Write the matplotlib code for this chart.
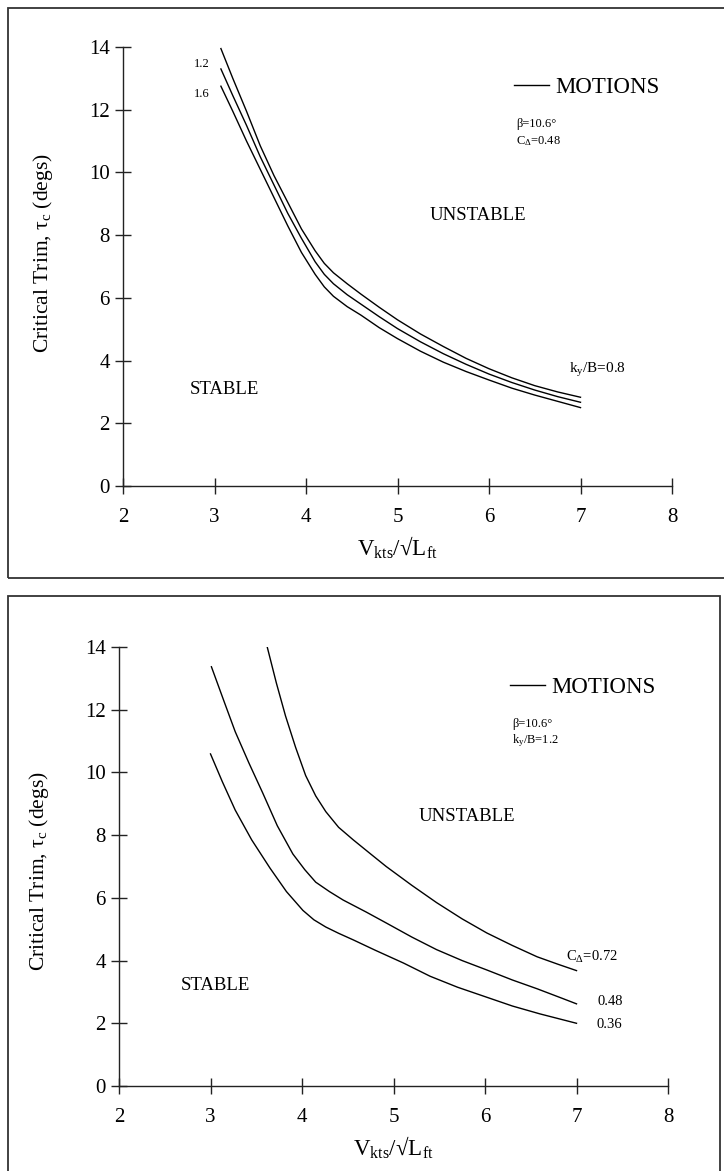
import matplotlib
matplotlib.use("Agg")
import matplotlib.pyplot as plt
from matplotlib.patches import Rectangle

plt.rcParams['font.family'] = ['Liberation Serif', 'DejaVu Serif']
plt.rcParams['mathtext.fontset'] = 'custom'
plt.rcParams['mathtext.rm'] = 'Liberation Serif'
plt.rcParams['mathtext.it'] = 'Liberation Serif:italic'

# top panel: k_y/B family, beta = 10.6 deg, C_delta = 0.48
top_x = [3.07, 3.2, 3.35, 3.5, 3.65, 3.8, 3.95, 4.1, 4.2, 4.3, 4.45, 4.6, 4.8,
         5.0, 5.25, 5.5, 5.75, 6.0, 6.25, 6.5, 6.75, 7.0]
top_k08 = [13.95, 13.0, 11.95, 10.85, 9.9, 9.05, 8.2, 7.5, 7.1, 6.8, 6.45, 6.12, 5.7,
           5.3, 4.85, 4.45, 4.07, 3.74, 3.45, 3.2, 3.0, 2.83]
top_k12 = [13.3, 12.45, 11.5, 10.5, 9.6, 8.7, 7.9, 7.15, 6.75, 6.45, 6.1, 5.8, 5.4,
           5.02, 4.6, 4.22, 3.88, 3.57, 3.3, 3.06, 2.85, 2.67]
top_k16 = [12.75, 11.95, 11.0, 10.1, 9.2, 8.3, 7.45, 6.75, 6.35, 6.05, 5.72, 5.45, 5.05,
           4.7, 4.3, 3.95, 3.65, 3.38, 3.12, 2.9, 2.7, 2.5]

# bottom panel: C_delta family, beta = 10.6 deg, k_y/B = 1.2
c072_x = [3.62, 3.72, 3.82, 3.93, 4.04, 4.15, 4.26, 4.4, 4.56, 4.75, 4.92, 5.2, 5.47,
          5.75, 6.02, 6.3, 6.57, 6.8, 7.0]
c072_y = [14.0, 12.85, 11.8, 10.8, 9.9, 9.25, 8.75, 8.25, 7.85, 7.4, 7.0, 6.4, 5.85,
          5.33, 4.88, 4.48, 4.12, 3.88, 3.68]
c048_x = [3.01, 3.15, 3.27, 3.42, 3.57, 3.73, 3.9, 4.03, 4.15, 4.3, 4.45, 4.7, 4.92,
          5.2, 5.47, 5.75, 6.02, 6.3, 6.57, 6.84, 7.0]
c048_y = [13.37, 12.25, 11.3, 10.3, 9.35, 8.3, 7.4, 6.9, 6.5, 6.2, 5.93, 5.55, 5.2,
          4.75, 4.35, 4.0, 3.7, 3.38, 3.1, 2.8, 2.62]
c036_x = [3.0, 3.13, 3.27, 3.45, 3.65, 3.83, 4.01, 4.13, 4.26, 4.4, 4.56, 4.8, 5.11,
          5.4, 5.7, 6.0, 6.3, 6.6, 7.0]
c036_y = [10.59, 9.7, 8.8, 7.85, 6.95, 6.2, 5.6, 5.3, 5.07, 4.87, 4.66, 4.33, 3.92,
          3.5, 3.15, 2.85, 2.55, 2.3, 2.0]

x_ticks = [2, 3, 4, 5, 6, 7, 8]
y_ticks = [0, 2, 4, 6, 8, 10, 12, 14]

W, H = 724, 1171
fig = plt.figure(figsize=(W / 100, H / 100), dpi=100)

# scanned-page frames round each plot
fig.patches.append(Rectangle((8 / W, 1 - 578 / H), 1.05, 570 / H, transform=fig.transFigure,
                             fill=False, lw=1.3, ec='#333333'))
fig.patches.append(Rectangle((8 / W, -0.05), 712 / W, 1 - 596 / H + 0.05, transform=fig.transFigure,
                             fill=False, lw=1.3, ec='#333333'))

ax_top = fig.add_axes([123 / W, 1 - 486 / H, 549 / W, 439 / H])
ax_bot = fig.add_axes([119 / W, 1 - 1086 / H, 549 / W, 439 / H])


def style_axes(ax):
    ax.set_xlim(2, 8)
    ax.set_ylim(0, 14)
    ax.set_xticks(x_ticks)
    ax.set_yticks(y_ticks)
    for side in ('top', 'right'):
        ax.spines[side].set_visible(False)
    for side in ('left', 'bottom'):
        ax.spines[side].set_linewidth(1.0)
        ax.spines[side].set_color('#222222')
    ax.tick_params(direction='inout', length=12, width=1.0, color='#222222', labelsize=15)
    ax.tick_params(axis='x', pad=10)
    ax.tick_params(axis='y', pad=3.5)
    ax.set_xlabel(r'V$_\mathregular{kts}$/√L$_\mathregular{ft}$', fontsize=16.5, va='center')
    ax.xaxis.set_label_coords(0.5, -0.141)
    ax.set_ylabel(r'Critical Trim, τ$_\mathregular{c}$ (degs)', fontsize=15.5, va='center')
    ax.yaxis.set_label_coords(-0.146, 0.53)


def motions_legend(ax, handle, note1, note2):
    ax.legend([handle], ['MOTIONS'], loc='center left', bbox_to_anchor=(0.713, 0.907),
              frameon=False, fontsize=16.5, handlelength=1.5, handletextpad=0.3,
              borderpad=0, borderaxespad=0)
    ax.text(6.3, 11.55, note1, fontsize=9, va='center', ha='left')
    ax.text(6.3, 11.0, note2, fontsize=9, va='center', ha='left')


# ---- top panel
style_axes(ax_top)
h, = ax_top.plot(top_x, top_k08, color='black', lw=1.0)
ax_top.plot(top_x, top_k12, color='black', lw=1.0)
ax_top.plot(top_x, top_k16, color='black', lw=1.0)
ax_top.text(2.95, 13.47, '1.2', fontsize=9, ha='right', va='center')
ax_top.text(2.95, 12.5, '1.6', fontsize=9, ha='right', va='center')
ax_top.text(6.87, 3.69, r'k$_\mathregular{y}$/B=0.8', fontsize=11, ha='left', va='center')
ax_top.text(5.88, 8.63, 'UNSTABLE', fontsize=13.5, ha='center', va='center')
ax_top.text(3.11, 3.09, 'STABLE', fontsize=13.5, ha='center', va='center')
motions_legend(ax_top, h, 'β=10.6°', r'C$_\mathregular{\Delta}$=0.48')

# ---- bottom panel
style_axes(ax_bot)
ax_bot.yaxis.set_label_coords(-0.146, 0.49)
h, = ax_bot.plot(c072_x, c072_y, color='black', lw=1.0)
ax_bot.plot(c048_x, c048_y, color='black', lw=1.0)
ax_bot.plot(c036_x, c036_y, color='black', lw=1.0)
ax_bot.text(6.88, 4.1, r'C$_\mathregular{\Delta}$=0.72', fontsize=10.5, ha='left', va='center')
ax_bot.text(7.23, 2.68, '0.48', fontsize=10.5, ha='left', va='center')
ax_bot.text(7.22, 1.95, '0.36', fontsize=10.5, ha='left', va='center')
ax_bot.text(5.8, 8.61, 'UNSTABLE', fontsize=13.5, ha='center', va='center')
ax_bot.text(3.05, 3.22, 'STABLE', fontsize=13.5, ha='center', va='center')
motions_legend(ax_bot, h, 'β=10.6°', r'k$_\mathregular{y}$/B=1.2')

fig.savefig('out.png', dpi=100)
